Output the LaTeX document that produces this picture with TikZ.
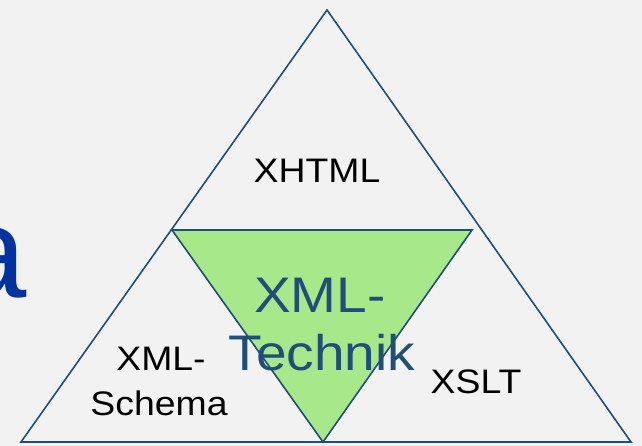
\documentclass[tikz,border=0pt]{standalone}
\usepackage{fontspec}
\setmainfont{Liberation Sans}
\newfontfamily\widefont[FakeStretch=1.1]{Liberation Sans}
\definecolor{bgc}{HTML}{F2F2F2}
\definecolor{edgec}{HTML}{1F4E79}
\definecolor{greenc}{HTML}{A6E88A}
\definecolor{titlec}{HTML}{0033A0}
\definecolor{techc}{HTML}{1F4E79}
\begin{document}
\begin{tikzpicture}[x=1pt,y=-1pt,
  outline/.style={draw=edgec,line width=1.6pt,line join=miter},
  lbl/.style={inner sep=0pt,anchor=base,font=\widefont\fontsize{34}{40}\selectfont,text=black},
  techlbl/.style={inner sep=0pt,anchor=base,font=\widefont\fontsize{50}{58}\selectfont,text=techc}]
\useasboundingbox (0,0) rectangle (642,446);
\clip (0,0) rectangle (642,446);
\fill[bgc] (0,0) rectangle (642,446);
% cut-off title letter
\node[inner sep=0pt,anchor=base east,font=\fontsize{130}{150}\selectfont,text=titlec] (title) at (27,297) {a};
% outer triangle
\coordinate (apex) at (327,10);
\coordinate (bl) at (21,442);
\coordinate (br) at (631,442);
\draw[outline] (apex) -- (bl) -- (br) -- cycle;
% inner green triangle
\coordinate (gl) at (172,230);
\coordinate (gr) at (472,230);
\coordinate (gb) at (323,442);
\filldraw[outline,fill=greenc] (gl) -- (gr) -- (gb) -- cycle;
% labels
\node[lbl] (xhtml) at (317,183) {XHTML};
\node[lbl] (schema1) at (161,370) {XML-};
\node[lbl] (schema2) at (159,415) {Schema};
\node[lbl] (xslt) at (476,393) {XSLT};
\node[techlbl] (tech1) at (320,312) {XML-};
\node[techlbl] (tech2) at (322,370) {Technik};
\end{tikzpicture}
\end{document}
